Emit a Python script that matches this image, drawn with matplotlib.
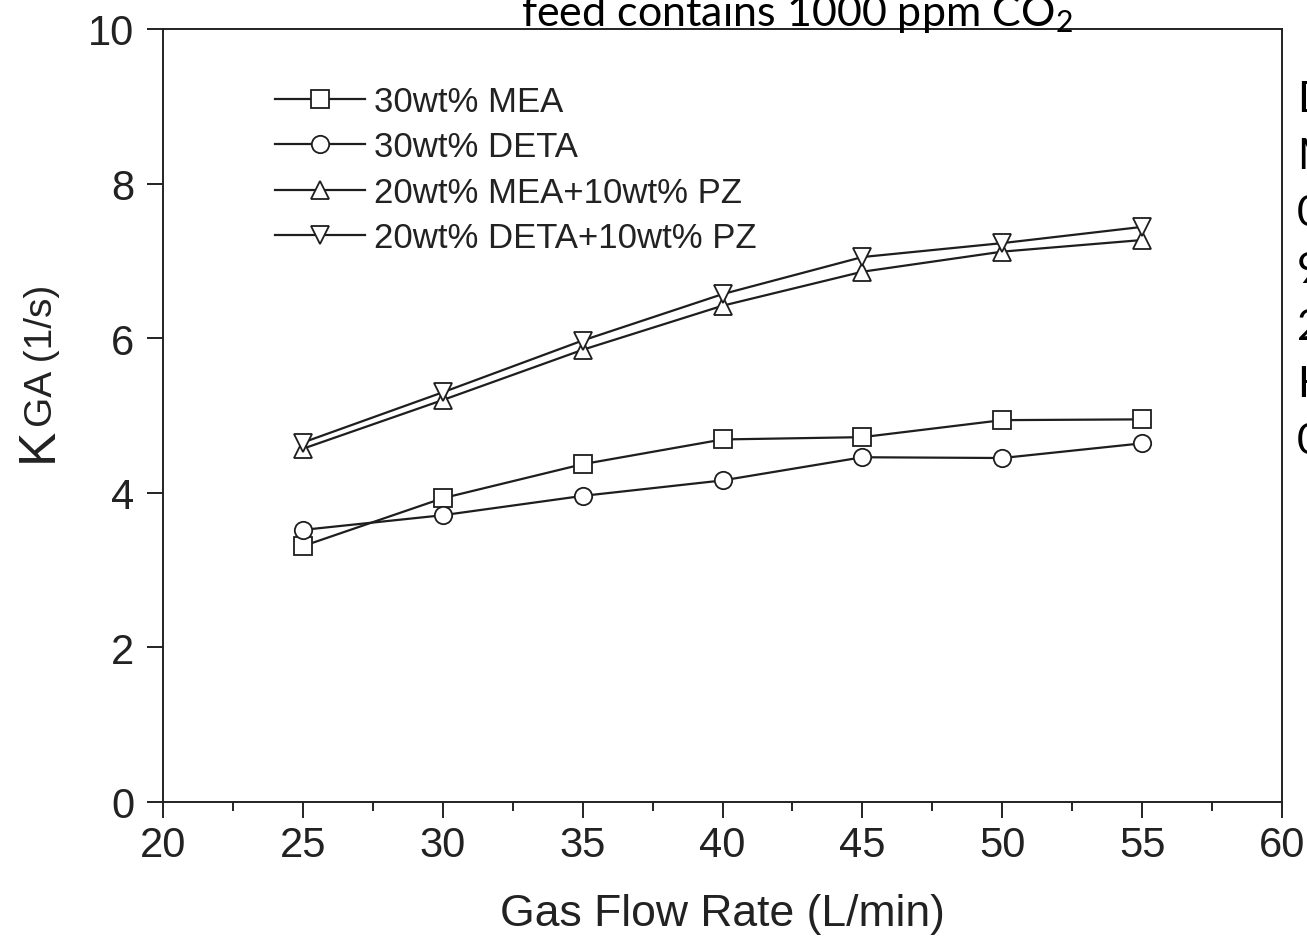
import matplotlib
matplotlib.use("Agg")
import matplotlib.pyplot as plt
from matplotlib.ticker import MultipleLocator

# ---- data ----
flow = [25, 30, 35, 40, 45, 50, 55]
mea = [3.31, 3.93, 4.37, 4.69, 4.72, 4.94, 4.95]
deta = [3.52, 3.71, 3.96, 4.16, 4.46, 4.45, 4.64]
mea_pz = [4.57, 5.20, 5.85, 6.42, 6.86, 7.12, 7.27]
deta_pz = [4.65, 5.30, 5.97, 6.57, 7.05, 7.23, 7.44]
labels = ["30wt% MEA", "30wt% DETA", "20wt% MEA+10wt% PZ", "20wt% DETA+10wt% PZ"]
x_ticks = [20, 25, 30, 35, 40, 45, 50, 55, 60]
y_ticks = [0, 2, 4, 6, 8, 10]
title_text = "feed contains 1000 ppm CO$\\mathregular{_2}$"
side_chars = ["D", "M", "0", "9", "2", "H", "0"]

W, H = 1307, 937
DPI = 100
fig = plt.figure(figsize=(W / DPI, H / DPI), dpi=DPI)
fig.patch.set_facecolor("white")

L, R, T, B = 163, 1282, 30, 803
ax = fig.add_axes([L / W, 1 - B / H, (R - L) / W, (B - T) / H])

lc = "#1e1e1e"
series = [(mea, "s"), (deta, "o"), (mea_pz, "^"), (deta_pz, "v")]
for (vals, mk), lab in zip(series, labels):
    ax.plot(flow, vals, color=lc, lw=1.6, marker=mk, ms=12.5,
            mfc="white", mec=lc, mew=1.3, label=lab)

ax.set_xlim(20, 60)
ax.set_ylim(0, 10)
ax.set_xticks(x_ticks)
ax.set_yticks(y_ticks)
ax.xaxis.set_minor_locator(MultipleLocator(2.5))
for s in ax.spines.values():
    s.set_linewidth(1.4)
    s.set_color("#222222")

ax.tick_params(axis="both", which="major", direction="out", length=11.5,
               width=1.4, color="#222222", labelsize=30, labelcolor="#222222")
ax.tick_params(axis="x", which="major", pad=5)
ax.tick_params(axis="y", which="major", pad=9)
ax.tick_params(axis="x", which="minor", direction="out", length=6.5,
               width=1.4, color="#222222")
for lbl in ax.get_xticklabels() + ax.get_yticklabels():
    lbl.set_fontfamily("Liberation Sans")

ax.set_xlabel("Gas Flow Rate (L/min)", fontfamily="Liberation Sans",
              fontsize=32, color="#222222", labelpad=20)

leg = ax.legend(loc="upper left", bbox_to_anchor=((275 - L) / (R - L), (B - 86) / (B - T)),
                frameon=False, borderpad=0, borderaxespad=0,
                prop={"family": "Liberation Sans", "size": 25},
                handlelength=2.6, handletextpad=0.25, labelspacing=0.36)
for t in leg.get_texts():
    t.set_color("#222222")

# y label: large K followed by smaller "GA (1/s)"
k = fig.text(52 / W, 1 - 462 / H, "K", rotation=90, rotation_mode="anchor",
             ha="left", va="baseline", fontfamily="Liberation Sans",
             fontsize=37, color="#222222")
fig.canvas.draw()
bb = k.get_window_extent(renderer=fig.canvas.get_renderer())
fig.text(52 / W, bb.y1 / H + 1 / H, "GA (1/s)", rotation=90, rotation_mode="anchor",
         ha="left", va="baseline", fontfamily="Liberation Sans",
         fontsize=28, color="#222222")

# title (cut off at top)
fig.text(797 / W, 1 - 26 / H, title_text, ha="center", va="baseline",
         fontfamily="Lato", fontsize=31, color="black")

# side characters cut off at right edge
for i, ch in enumerate(side_chars):
    fig.text(1297 / W, 1 - (112 + 57 * i) / H, ch, ha="left", va="baseline",
             fontfamily="Lato", fontsize=31, color="black")

fig.savefig("out.png", dpi=DPI, facecolor="white")
